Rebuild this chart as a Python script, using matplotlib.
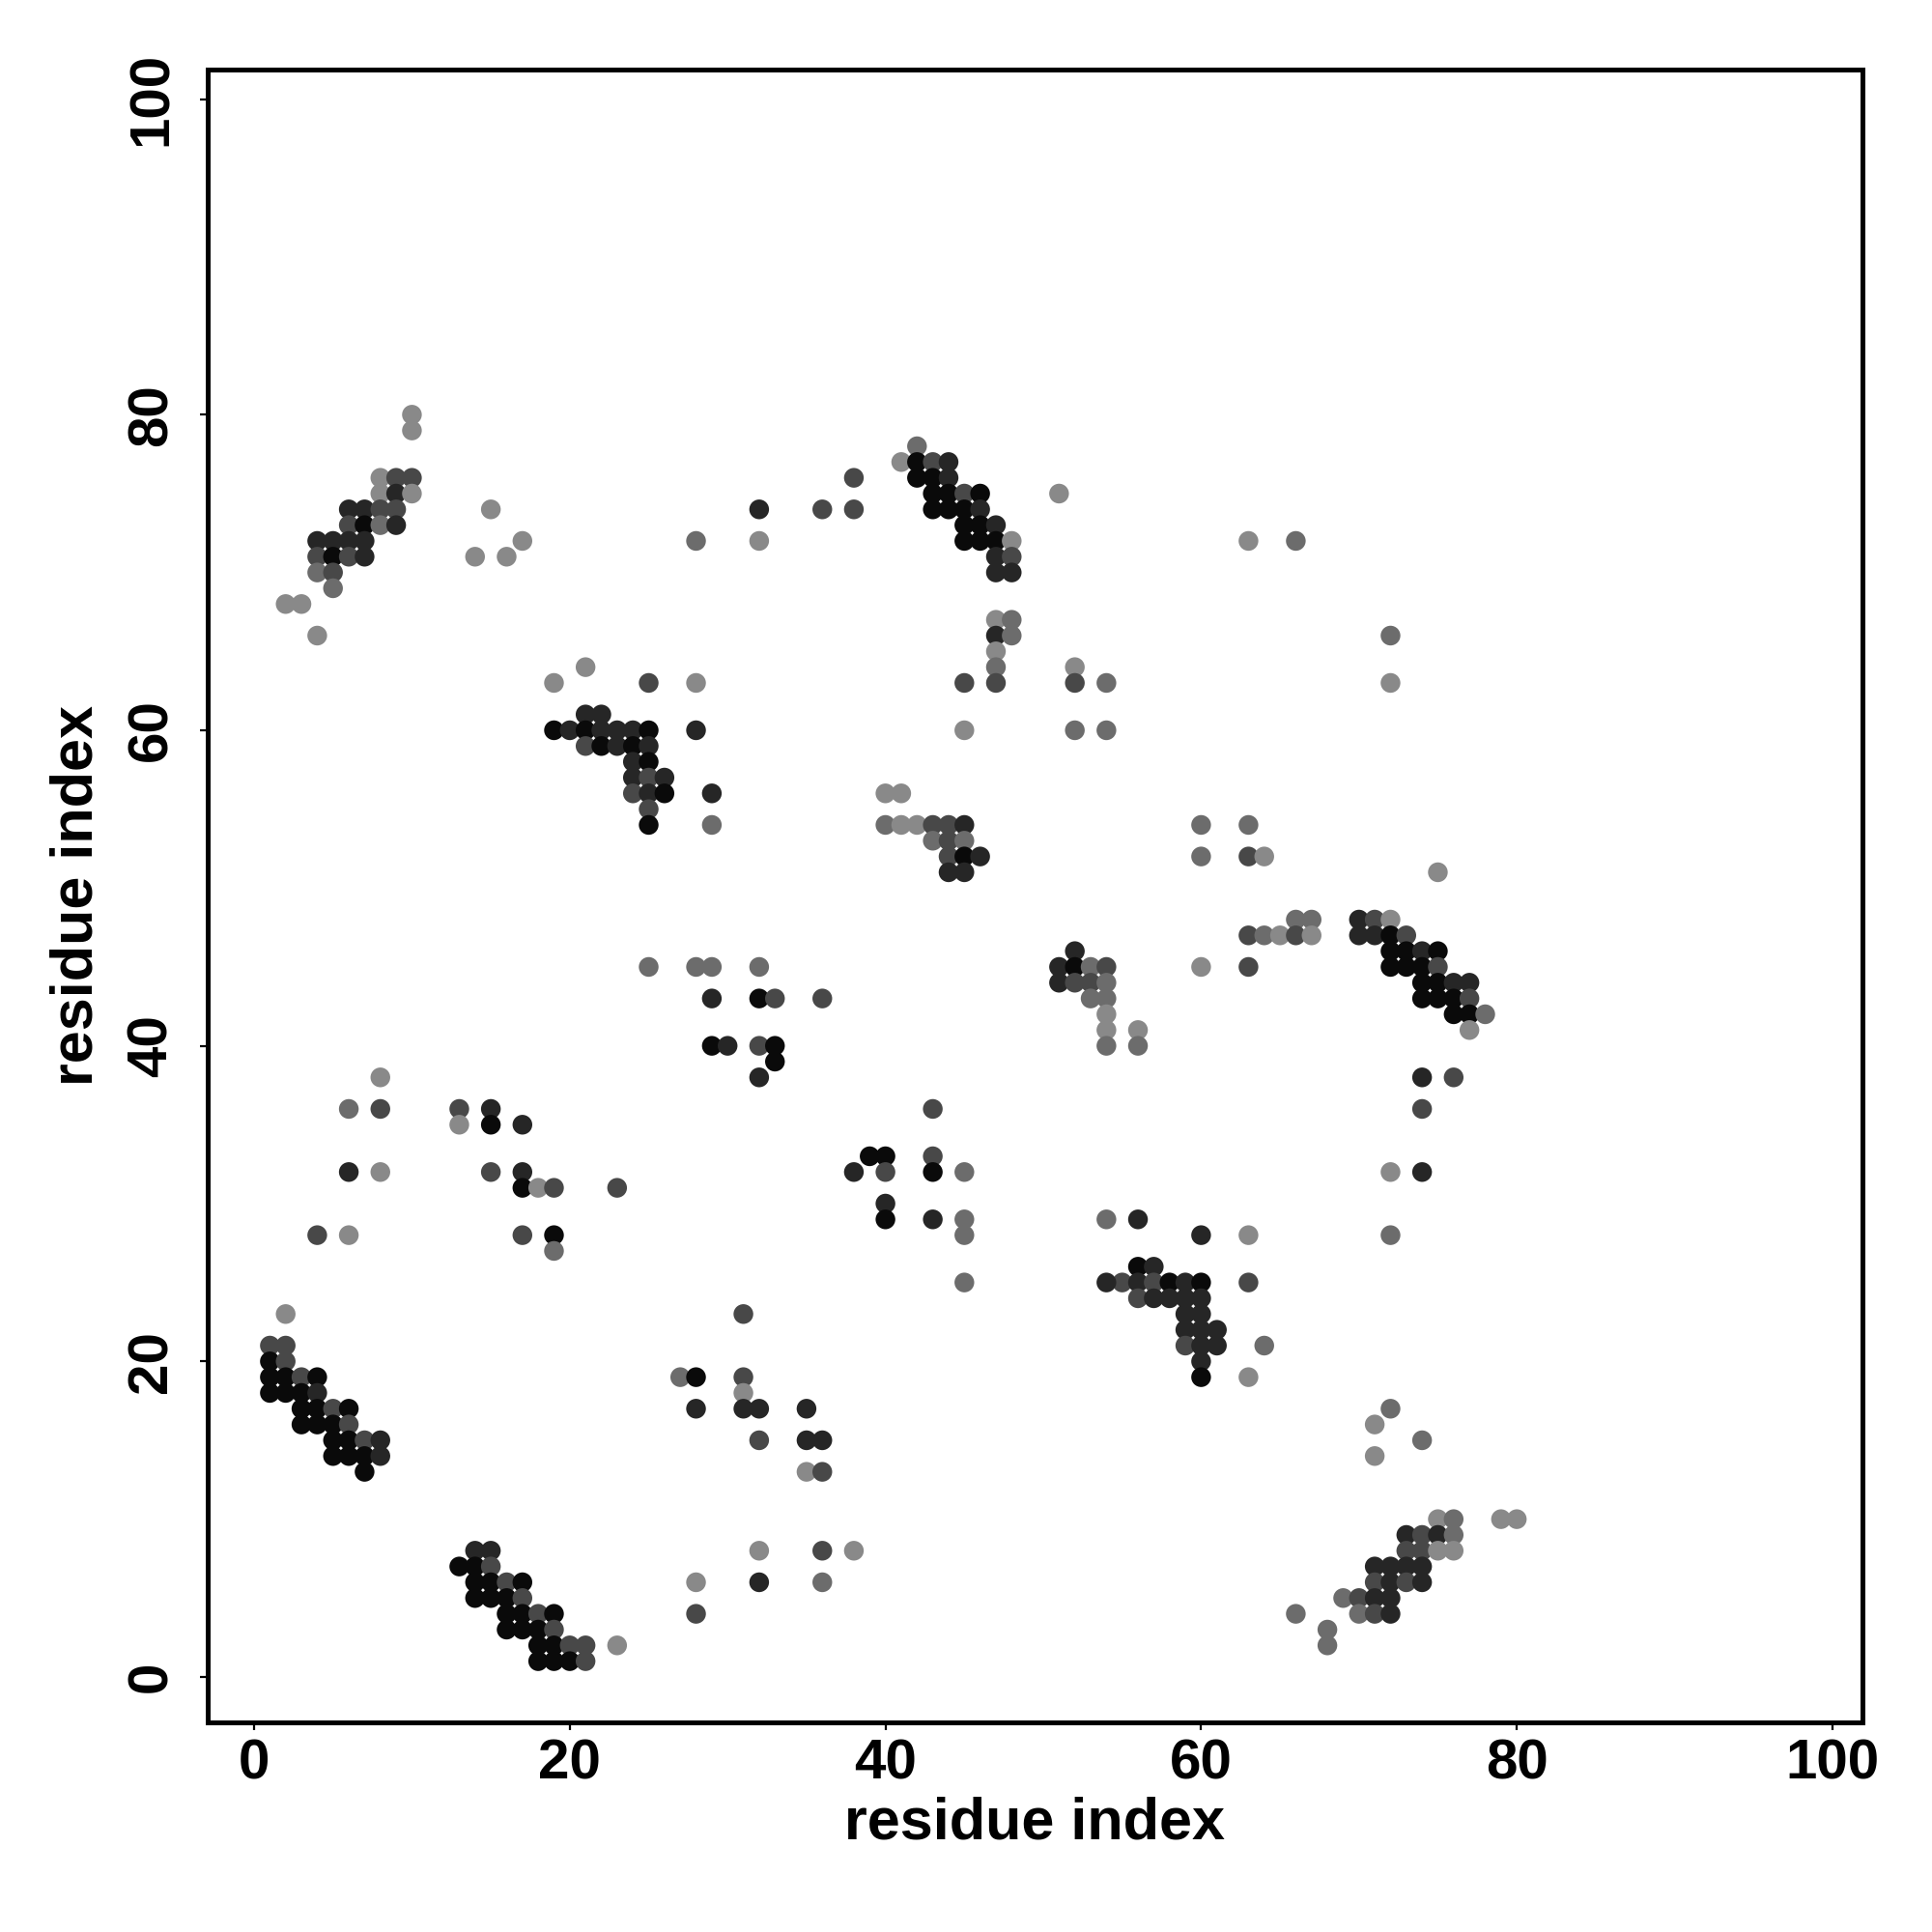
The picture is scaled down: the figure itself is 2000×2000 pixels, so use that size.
import matplotlib
matplotlib.use("Agg")
import matplotlib.pyplot as plt
import numpy as np

# contact map: residue i, residue j, contact level (1 = weak/light grey ... 5 = strong/black)
res_i = [
    10, 10, 8, 9, 10, 8, 9, 10, 6, 7, 8, 9, 15, 6, 7, 8, 9, 4, 5, 6, 7, 17,
    4, 5, 6, 7, 14, 16, 4, 5, 5, 2, 3, 4, 21, 19, 25, 21, 22,
    19, 20, 21, 22, 23, 24, 25, 21, 22, 23, 24, 25, 24, 25, 24, 25, 26, 24, 25, 26, 25, 25,
    42, 41, 42, 43, 44, 38, 42, 43, 44, 43, 44, 45, 46, 51,
    32, 36, 38, 43, 44, 45, 46, 45, 46, 47, 28, 32, 45, 46, 47, 48,
    47, 48, 47, 48, 47, 48, 47, 48, 47, 47, 52, 28, 45, 47, 52, 54,
    28, 45, 52, 54, 29, 40, 41, 29, 40, 41, 42, 43, 44, 45,
    63, 66, 72, 72, 60, 63,
    25, 8, 6, 8, 13, 15, 13, 15, 17, 6, 8, 15, 17, 17, 18, 19, 23, 4, 6, 17, 19, 19,
    43, 44, 45, 44, 45, 46, 44, 45, 28, 29, 32, 52, 51, 52, 53, 54, 51, 52, 53, 54,
    29, 32, 33, 36, 53, 54, 54, 54, 29, 30, 32, 33, 54, 33, 32, 43, 39, 40, 43,
    38, 40, 43, 45, 40, 40, 43, 45, 54, 45, 45,
    60, 63, 64, 75, 66, 67, 70, 71, 72, 63, 64, 65, 66, 67, 70, 71, 72, 73,
    72, 73, 74, 75, 60, 63, 72, 73, 74, 75, 74, 75, 76, 77, 74, 75, 76, 77,
    76, 77, 78, 77, 56, 56, 74, 76, 74, 72, 74, 56, 60, 63, 72, 56, 57,
    2, 1, 2, 1, 2, 1, 2, 3, 4, 1, 2, 3, 4, 3, 4, 5, 6, 3, 4, 5, 6,
    5, 6, 7, 8, 5, 6, 7, 8, 7, 14, 15, 13, 14, 15, 14, 15, 16, 17, 14, 15, 16, 17,
    16, 17, 18, 19, 16, 17, 18, 19, 18, 19, 20, 21, 23, 18, 19, 20, 21, 27,
    55, 31, 28, 31, 31, 28, 31, 32, 35, 32, 35, 36, 35, 36, 32, 36, 38, 28, 32, 36, 28,
    54, 56, 57, 58, 59, 60, 63, 56, 57, 58, 59, 60, 59, 60, 59, 60, 61, 59, 60, 61, 64,
    60, 60, 63, 72, 71, 74, 71, 75, 76, 79, 80, 73, 74, 75, 76, 73, 74, 75, 76,
    71, 72, 73, 74, 71, 72, 73, 74, 69, 70, 71, 72, 66, 70, 71, 72, 68, 68,
]
res_j = [
    80, 79, 76, 76, 76, 75, 75, 75, 74, 74, 74, 74, 74, 73, 73, 73, 73, 72, 72, 72, 72, 72,
    71, 71, 71, 71, 71, 71, 70, 70, 69, 68, 68, 66, 64, 63, 63, 61, 61,
    60, 60, 60, 60, 60, 60, 60, 59, 59, 59, 59, 59, 58, 58, 57, 57, 57, 56, 56, 56, 55, 54,
    78, 77, 77, 77, 77, 76, 76, 76, 76, 75, 75, 75, 75, 75,
    74, 74, 74, 74, 74, 74, 74, 73, 73, 73, 72, 72, 72, 72, 72, 72,
    71, 71, 70, 70, 67, 67, 66, 66, 65, 64, 64, 63, 63, 63, 63, 63,
    60, 60, 60, 60, 56, 56, 56, 54, 54, 54, 54, 54, 54, 54,
    72, 72, 66, 63, 54, 54,
    45, 38, 36, 36, 36, 36, 35, 35, 35, 32, 32, 32, 32, 31, 31, 31, 31, 28, 28, 28, 28, 27,
    53, 53, 53, 52, 52, 52, 51, 51, 45, 45, 45, 46, 45, 45, 45, 45, 44, 44, 44, 44,
    43, 43, 43, 43, 43, 43, 42, 41, 40, 40, 40, 40, 40, 39, 38, 36, 33, 33, 33,
    32, 32, 32, 32, 30, 29, 29, 29, 29, 28, 25,
    52, 52, 52, 51, 48, 48, 48, 48, 48, 47, 47, 47, 47, 47, 47, 47, 47, 47,
    46, 46, 46, 46, 45, 45, 45, 45, 45, 45, 44, 44, 44, 44, 43, 43, 43, 43,
    42, 42, 42, 41, 41, 40, 38, 38, 36, 32, 32, 29, 28, 28, 28, 26, 26,
    23, 21, 21, 20, 20, 19, 19, 19, 19, 18, 18, 18, 18, 17, 17, 17, 17, 16, 16, 16, 16,
    15, 15, 15, 15, 14, 14, 14, 14, 13, 8, 8, 7, 7, 7, 6, 6, 6, 6, 5, 5, 5, 5,
    4, 4, 4, 4, 3, 3, 3, 3, 2, 2, 2, 2, 2, 1, 1, 1, 1, 19,
    25, 23, 19, 19, 18, 17, 17, 17, 17, 15, 15, 15, 13, 13, 8, 8, 8, 6, 6, 6, 4,
    25, 25, 25, 25, 25, 25, 25, 24, 24, 24, 24, 24, 23, 23, 22, 22, 22, 21, 21, 21, 21,
    20, 19, 19, 17, 16, 15, 14, 10, 10, 10, 10, 9, 9, 9, 9, 8, 8, 8, 8,
    7, 7, 7, 7, 6, 6, 6, 6, 5, 5, 5, 5, 4, 4, 4, 4, 3, 2,
]
level = [
    1, 1, 1, 3, 3, 1, 4, 1, 4, 4, 3, 3, 1, 3, 5, 2, 4, 4, 4, 4, 4, 1,
    3, 5, 3, 4, 1, 1, 2, 3, 2, 1, 1, 1, 1, 1, 3, 4, 4,
    5, 4, 5, 4, 4, 4, 5, 3, 5, 4, 5, 4, 4, 5, 4, 3, 4, 3, 4, 5, 3, 5,
    2, 1, 5, 3, 4, 3, 5, 5, 4, 5, 5, 3, 5, 1,
    4, 3, 3, 5, 5, 5, 4, 5, 5, 4, 2, 1, 5, 5, 5, 1,
    4, 3, 4, 4, 1, 2, 4, 2, 1, 2, 1, 1, 3, 3, 3, 2,
    4, 1, 2, 2, 4, 1, 1, 2, 2, 1, 1, 3, 3, 4,
    1, 2, 2, 1, 2, 2,
    2, 1, 2, 3, 3, 4, 1, 5, 4, 4, 1, 3, 4, 5, 1, 3, 3, 3, 1, 3, 5, 2,
    2, 3, 2, 3, 5, 4, 4, 4, 2, 2, 2, 4, 4, 5, 2, 3, 4, 3, 3, 2,
    4, 5, 3, 3, 2, 2, 1, 1, 5, 4, 3, 5, 2, 5, 4, 3, 5, 5, 3,
    4, 3, 5, 2, 4, 5, 4, 2, 2, 2, 2,
    2, 3, 1, 1, 2, 2, 4, 3, 1, 3, 2, 1, 3, 1, 4, 4, 5, 3,
    5, 5, 4, 5, 1, 3, 5, 5, 5, 3, 5, 5, 4, 4, 5, 5, 5, 3,
    5, 5, 2, 1, 1, 2, 4, 3, 3, 1, 4, 4, 4, 1, 2, 5, 4,
    1, 3, 3, 5, 3, 5, 5, 3, 5, 5, 5, 5, 4, 5, 5, 3, 5, 5, 5, 5, 3,
    5, 5, 3, 4, 5, 5, 5, 4, 5, 4, 4, 5, 5, 3, 5, 5, 3, 5, 5, 5, 5, 3,
    5, 5, 3, 5, 5, 5, 5, 3, 5, 5, 3, 3, 1, 5, 5, 5, 3, 2,
    3, 3, 5, 3, 1, 4, 4, 4, 4, 3, 4, 4, 1, 3, 1, 3, 1, 1, 4, 2, 3,
    4, 4, 3, 5, 4, 5, 3, 3, 4, 4, 4, 4, 4, 4, 4, 4, 4, 3, 4, 4, 2,
    4, 5, 1, 2, 1, 2, 1, 1, 2, 1, 1, 4, 3, 4, 2, 3, 3, 1, 1,
    4, 4, 4, 4, 3, 4, 3, 4, 2, 3, 4, 4, 2, 2, 3, 4, 2, 2,
]

tick_vals = [0, 20, 40, 60, 80, 100]
grey_of_level = {1: "#898989", 2: "#6c6c6c", 3: "#484848", 4: "#262626", 5: "#0a0a0a"}

plt.rcParams['font.family'] = ['Liberation Sans', 'DejaVu Sans']
plt.rcParams['font.weight'] = 'bold'

fig = plt.figure(figsize=(10, 10), dpi=200)
ax = fig.add_axes([0.1075, 0.1085, 0.8565, 0.8557])

cols = [grey_of_level[l] for l in level]
ax.scatter(res_i, res_j, s=54, c=cols, linewidths=0, zorder=3)

ax.set_xlim(-2.94, 101.9)
ax.set_ylim(-2.88, 101.9)
ax.set_xticks(tick_vals)
ax.set_yticks(tick_vals)
ax.set_xticklabels([str(t) for t in tick_vals], fontsize=21, fontweight='bold')
ax.set_yticklabels([str(t) for t in tick_vals], fontsize=21, fontweight='bold',
                   rotation=90, va='center')
ax.tick_params(direction='out', length=3, width=0.8, pad=3)
ax.tick_params(axis='y', pad=8)

for sp in ax.spines.values():
    sp.set_linewidth(1.8)

ax.set_xlabel('residue index', fontsize=22, fontweight='bold', labelpad=2)
ax.set_ylabel('residue index', fontsize=22, fontweight='bold', labelpad=8)

fig.savefig('out.png', dpi=200, facecolor='white')
